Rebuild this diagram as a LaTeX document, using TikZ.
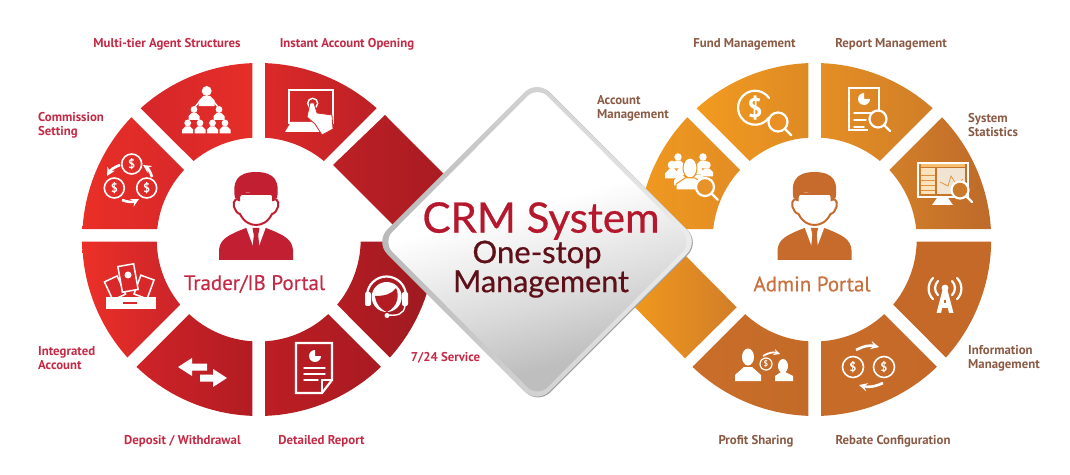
\documentclass[tikz,border=0pt]{standalone}
\usepackage{fontspec}
\usepackage{tikz}
\usetikzlibrary{arrows,shapes,positioning,calc}

\newfontfamily\labelfont{PT Sans}
\newfontfamily\portalfont[FakeBold=0.35]{PT Sans}
\newfontfamily\titlefont[FakeBold=0.6]{Lato}

\definecolor{redtext}{HTML}{C42A45}
\definecolor{browntext}{HTML}{8A5A44}
\definecolor{redman}{HTML}{C21F33}
\definecolor{orangeman}{HTML}{C76B2C}
\definecolor{admintext}{HTML}{C8703E}
\definecolor{crmred}{HTML}{B5182D}
\definecolor{crmdark}{HTML}{5E0F18}
\definecolor{redbg}{HTML}{D92829}
\definecolor{servicebg}{HTML}{B41C23}
\definecolor{lensa}{HTML}{E8922A}
\definecolor{lensb}{HTML}{E99124}
\definecolor{lensc}{HTML}{DA8427}
\definecolor{lensd}{HTML}{CB7A2B}
\definecolor{crowdedge}{HTML}{EE9622}
\definecolor{statbar}{HTML}{F7C070}
\definecolor{statstripe}{HTML}{FBE3BE}
\definecolor{statline}{HTML}{E09040}
\definecolor{statchart}{HTML}{F1E4D2}
\definecolor{towerbg}{HTML}{C46928}
\definecolor{platedark}{HTML}{A0A0A0}
\definecolor{plateleft}{HTML}{B8B8B8}
\definecolor{plateright}{HTML}{EDEDED}
\definecolor{platelow}{HTML}{BEBEBE}
\definecolor{platemid}{HTML}{DADADA}
\definecolor{squarea}{HTML}{BC2026}
\definecolor{squareb}{HTML}{A61A21}
\definecolor{squarec}{HTML}{F49C1C}
\definecolor{squared}{HTML}{D27E28}

\pgfdeclareverticalshading{platefade}{100bp}{color(0bp)=(platelow); color(30bp)=(platelow); color(40bp)=(platemid); color(56bp)=(white); color(100bp)=(white)}

\tikzset{
  redlabel/.style={font=\labelfont\bfseries\fontsize{12.8}{14}\selectfont,text=redtext,align=left,inner sep=0pt},
  brownlabel/.style={font=\labelfont\bfseries\fontsize{12.8}{14}\selectfont,text=browntext,align=left,inner sep=0pt},
  portal/.style={font=\portalfont\fontsize{21}{24}\selectfont},
  icon/.style={draw=white,line width=2.2pt,line cap=round},
  iconthin/.style={draw=white,line width=1.4pt,line cap=round},
  curved/.style={draw=white,line width=2.6pt,-stealth}
}

% ring piece: centre, outer start, outer end, inner end, inner start, colours
\newcommand{\ringseg}[7]{
  \definecolor{sega}{HTML}{#6}
  \definecolor{segb}{HTML}{#7}
  \shade[left color=sega,right color=segb] ($(#1)+(#2:176.5)$)
    arc[start angle=#2,end angle=#3,radius=176.5]
    -- ($(#1)+(#4:102)$)
    arc[start angle=#4,end angle=#5,radius=102] -- cycle;
}
\newcommand{\manicon}[3]{
  \begin{scope}[shift={(#1,#2)}]
    \fill[#3] (-37,0) -- (-37,10) .. controls (-36,21) and (-28,25) .. (-10,32)
      -- (10,32) .. controls (28,25) and (36,21) .. (37,10) -- (37,0) -- cycle;
    \fill[white] (-10,33) -- (0,6) -- (10,33) -- cycle;
    \fill[#3] (-3.5,32) -- (3.5,32) -- (2.2,25) -- (3.6,11) -- (0,5) -- (-3.6,11) -- (-2.2,25) -- cycle;
    \filldraw[fill=white,draw=#3,line width=2pt] (-17,66) -- (-17,60) .. controls (-23,63) and (-24,54) .. (-20,49)
      .. controls (-18,46) and (-17,47) .. (-16,46) .. controls (-12,38) and (-6,35) .. (0,35)
      .. controls (6,35) and (12,38) .. (16,46) .. controls (17,47) and (18,46) .. (20,49)
      .. controls (24,54) and (23,63) .. (17,60) -- (17,66) -- cycle;
    \fill[#3] (-21,62) .. controls (-24,78) and (-19,88) .. (0,88)
      .. controls (19,88) and (24,78) .. (21,62) -- (17,60) .. controls (16,70) and (8,66) .. (2,65)
      .. controls (-6,68) and (-15,70) .. (-17,60) -- cycle;
  \end{scope}
}
\newcommand{\coin}[4]{
  \node[circle,draw=white,line width=1.6pt,minimum size=#4,inner sep=0pt,text=white,
    font=\labelfont\bfseries\fontsize{12.5}{12.5}\selectfont] (#1) at (#2,#3) {\$};
}
\newcommand{\lens}[4]{
  \draw[icon,fill=#4] (#1,#2) circle (#3);
  \draw[icon] ($(#1,#2)+(-45:#3)$) -- ($(#1,#2)+(-45:#3*2)$);
}
\newcommand{\minihead}[3]{
  \fill[white] (#1,#2) circle (#3*0.62);
  \fill[white] ($(#1,#2)+(-#3,-#3*1.9)$) -- ($(#1,#2)+(-#3,-#3*1.2)$) -- ($(#1,#2)+(-#3*0.4,-#3*0.6)$)
    -- ($(#1,#2)+(#3*0.4,-#3*0.6)$) -- ($(#1,#2)+(#3,-#3*1.2)$) -- ($(#1,#2)+(#3,-#3*1.9)$) -- cycle;
}

\begin{document}
\begin{tikzpicture}[x=1pt,y=1pt]
  \useasboundingbox (0,0) rectangle (1070,474);
  \coordinate (L) at (258.7,234.5);
  \coordinate (R) at (814.7,234.5);

  % left ring
  \ringseg{L}{176.61}{136.17}{137.03}{174.12}{E92F27}{D92829}
  \ringseg{L}{131.95}{92.06}{93.57}{129.71}{D6262A}{E52E28}
  \ringseg{L}{87.94}{48.05}{50.29}{86.43}{DC2A29}{BC2026}
  \ringseg{L}{180.71}{221.95}{219.71}{181.24}{EC3028}{CB2429}
  \ringseg{L}{226.17}{267.94}{266.43}{227.03}{CE2329}{B21C22}
  \ringseg{L}{272.06}{313.83}{312.97}{273.57}{BC1E24}{A91A22}
  \ringseg{L}{318.05}{359.29}{358.76}{320.29}{B41C23}{9C1A20}
  \shade[left color=squarea,right color=squareb] (385,359) -- (465,278.7) -- (413,229) -- (333,309) -- cycle;

  % right ring
  \ringseg{R}{176.61}{136.17}{137.03}{174.12}{F09A20}{E28C24}
  \ringseg{R}{131.95}{92.06}{93.57}{129.71}{F29B20}{DE8A24}
  \ringseg{R}{87.94}{48.05}{50.29}{86.43}{E48E24}{D07E28}
  \ringseg{R}{43.83}{3.39}{5.88}{42.97}{D27F29}{BE6A2A}
  \ringseg{R}{-0.71}{-41.95}{-39.71}{-1.24}{C46928}{C46928}
  \ringseg{R}{272.06}{313.83}{312.97}{273.57}{C76C28}{C46928}
  \ringseg{R}{226.17}{267.94}{266.43}{227.03}{C96E2A}{C46A28}
  \shade[left color=squarec,right color=squared] (736.7,166.7) -- (665,239) -- (615,187) -- (685,115.7) -- cycle;

  % men
  \manicon{256}{214}{redman}
  \manicon{814.5}{214}{orangeman}

  % multi-tier
  \minihead{206.7}{383}{8}
  \minihead{194}{364.5}{5.5}
  \minihead{219}{364.5}{5.5}
  \minihead{187.7}{351}{5.5}
  \minihead{200}{351}{5.5}
  \minihead{212.5}{351}{5.5}
  \minihead{225}{351}{5.5}
  \draw[iconthin] (199,372) -- (195,367) (214,372) -- (218,367);

  % instant account
  \draw[icon,line cap=butt] (289,351) rectangle (333,384);
  \fill[white] (285,342) -- (320,342) -- (315,352) -- (291,352) -- cycle;
  \draw[iconthin] (312.7,370.7) circle (5);
  \filldraw[fill=white,draw=redbg,line width=0.8pt] (310,371) -- (314,371) -- (317,361) -- (332,359) -- (333,345) -- (322,339) -- (315,350) -- (307,357) -- cycle;

  % commission
  \coin{moneytop}{131.7}{310}{20pt}
  \coin{moneyleft}{114.3}{286}{20pt}
  \coin{moneyright}{146.7}{286}{20pt}
  \draw[curved] (120,309) to[bend right=20] (107,298);
  \draw[curved] (152,297) to[bend right=20] (143,309);
  \draw[curved] (122,274) to[bend right=25] (139,275);

  % integrated account
  \filldraw[fill=redbg,draw=white,line width=1.5pt,rotate around={25:(115,186)}] (108,176) rectangle (122,196);
  \filldraw[fill=redbg,draw=white,line width=1.5pt,rotate around={-20:(144,187)}] (137,177) rectangle (151,197);
  \filldraw[fill=redbg,draw=white,line width=1.5pt,rotate around={10:(128,196)}] (120,183) rectangle (136,209);
  \fill[white] (128,199) circle (3.5);
  \fill[white] (106,165) rectangle (156,177);
  \draw[redbg,line width=1.3pt] (123,171) -- (137,171);

  % deposit
  \fill[white] (178,107) -- (192,116) -- (192,110.5) -- (207,110.5) -- (207,103.5) -- (192,103.5) -- (192,98) -- cycle;
  \fill[white] (227,96) -- (213,105) -- (213,99.5) -- (200,99.5) -- (200,92.5) -- (213,92.5) -- (213,87) -- cycle;

  % detailed report
  \draw[icon,line cap=butt] (296,131) -- (332,131) -- (332,94) -- (322,81) -- (296,81) -- cycle;
  \draw[iconthin] (332,94) -- (322,94) -- (322,81);
  \fill[white] (315,118) -- (315,124) arc[start angle=90,end angle=360,radius=6] -- cycle;
  \draw[iconthin] (304,106) -- (325,106) (304,100) -- (325,100) (304,94) -- (318,94);

  % service
  \fill[white] (386.7,177) circle (15);
  \fill[servicebg] (375,178) .. controls (385,178) and (392,180) .. (396,186) .. controls (399,180) and (399,168) .. (387,162) .. controls (380,165) and (376,170) .. (375,178) -- cycle;
  \draw[icon] (367,178) arc[start angle=180,end angle=0,radius=19.5];
  \fill[white,rounded corners=2] (365,168) rectangle (371,182);
  \fill[white,rounded corners=2] (402,168) rectangle (408,182);
  \draw[iconthin] (405,168) .. controls (404,160) and (397,158) .. (389,159);
  \fill[white] (387,158.5) circle (2.5);

  % account management
  \minihead{672}{309}{7}
  \minihead{678}{317}{6}
  \minihead{703}{317}{6}
  \minihead{707}{309}{6}
  \minihead{681}{302}{7}
  \minihead{699}{303}{6}
  \filldraw[fill=white,draw=crowdedge,line width=1pt] (690,306) ellipse (7 and 10);
  \filldraw[fill=white,draw=crowdedge,line width=1pt] (676,284) -- (676,290) -- (685,296) -- (695,296) -- (704,290) -- (704,284) -- cycle;
  \lens{705}{287}{9}{lensa}

  % fund
  \draw[icon] (769,376) arc[start angle=35,end angle=325,radius=17];
  \node[text=white,font=\labelfont\bfseries\fontsize{27}{27}\selectfont] (fundsign) at (755,366) {\$};
  \lens{778}{352}{9.5}{lensb}

  % report
  \draw[icon,line cap=butt] (874,350) -- (879,350) -- (879,386) -- (849,386) -- (849,344) -- (868,344);
  \fill[white] (864,369) -- (864,381) arc[start angle=90,end angle=360,radius=6] -- (864,375) -- cycle;
  \draw[iconthin] (854,361) -- (874,361) (854,354) -- (866,354) (854,347) -- (864,347);
  \lens{878}{355}{8.5}{lensc}

  % statistics
  \draw[icon,line cap=butt] (918,277) rectangle (968,311);
  \fill[statbar] (921,307) rectangle (965,310);
  \fill[statstripe] (921,280) rectangle (935,306);
  \draw[statline,line width=0.7pt] (921,284) -- (935,284) (921,289) -- (935,289) (921,294) -- (935,294) (921,299) -- (935,299);
  \fill[statchart] (937,280) rectangle (965,306);
  \draw[statline,line width=0.7pt] (940,292) -- (948,288) -- (951,298) -- (956,290) -- (963,295);
  \fill[white] (932,269) -- (953,269) -- (948,276) -- (937,276) -- cycle;
  \lens{960}{284}{8.5}{lensd}

  % information
  \fill[white] (945,186) circle (3.4);
  \fill[white] (936.5,161) -- (942.5,184) -- (947.5,184) -- (953.5,161) -- (949,161) -- (947.8,166) -- (942.2,166) -- (941,161) -- cycle;
  \fill[towerbg] (943.8,171) rectangle (946.2,174);
  \draw[icon] (938,193) arc[start angle=135,end angle=225,radius=10];
  \draw[icon] (952,193) arc[start angle=45,end angle=-45,radius=10];
  \draw[icon] (933,196) arc[start angle=135,end angle=225,radius=15];
  \draw[icon] (957,196) arc[start angle=45,end angle=-45,radius=15];

  % rebate
  \coin{rebatea}{853}{107}{21pt}
  \coin{rebateb}{884}{107}{21pt}
  \draw[curved] (856,124) to[bend left=20] (879,127);
  \draw[curved] (883,91) to[bend left=20] (859,89);

  % profit
  \fill[white] (748,117) ellipse (6 and 8.5);
  \fill[white] (735,93) -- (735,99) -- (744,107) -- (752,107) -- (761,99) -- (761,93) -- cycle;
  \fill[white] (783,108) ellipse (5 and 7);
  \fill[white] (775,93) -- (775,98) -- (781,102) -- (785,102) -- (793,98) -- (793,93) -- cycle;
  \node[circle,draw=white,line width=1.2pt,minimum size=12pt,inner sep=0pt,text=white,
    font=\labelfont\bfseries\fontsize{8}{8}\selectfont] (profitcoin) at (766,110) {\$};
  \draw[draw=white,line width=1.8pt,-stealth] (763,118) to[bend left=25] (780,120);

  % centre plate
  \fill[platedark,rounded corners=17.4] (538,393.4) -- (700,231.4) -- (538,69.4) -- (376,231.4) -- cycle;
  \shade[left color=plateleft,right color=plateright,rounded corners=17.4] (537,394.2) -- (699,232.2) -- (537,70.2) -- (375,232.2) -- cycle;
  \shade[shading=platefade,shading angle=15,rounded corners=14] (537.5,387.7) -- (692.5,232.2) -- (537.5,76.7) -- (382.5,232.2) -- cycle;

  % labels
  \node[redlabel] (multitier) at (167,430) {Multi-tier Agent Structures};
  \node[redlabel] (instant) at (347,430) {Instant Account Opening};
  \node[redlabel,anchor=west] (commission) at (38,348.5) {Commission\\Setting};
  \node[redlabel,anchor=west] (integrated) at (38,115.5) {Integrated\\Account};
  \node[redlabel] (deposit) at (182.5,32.5) {Deposit / Withdrawal};
  \node[redlabel] (detailed) at (321.5,32.5) {Detailed Report};
  \node[redlabel] (service) at (445.5,116.5) {7/24 Service};
  \node[portal,text=redtext] (trader) at (254.5,190) {Trader/IB Portal};
  \node[brownlabel] (fund) at (744.5,430) {Fund Management};
  \node[brownlabel] (report) at (891,430) {Report Management};
  \node[brownlabel,anchor=west] (account) at (597,366) {Account\\Management};
  \node[brownlabel,anchor=west] (system) at (968,348.5) {System\\Statistics};
  \node[brownlabel,anchor=west] (information) at (968,115.5) {Information\\Management};
  \node[brownlabel] (profit) at (756,32.5) {Profit Sharing};
  \node[brownlabel] (rebate) at (893,32.5) {Rebate Configuration};
  \node[portal,text=admintext] (admin) at (812,190) {Admin Portal};
  \node[inner sep=0pt,font=\titlefont\fontsize{42}{46}\selectfont,text=crmred] (crm) at (541,253) {CRM System};
  \node[inner sep=0pt,font=\titlefont\fontsize{31}{34}\selectfont,text=crmdark] (onestop) at (537,219.5) {One-stop};
  \node[inner sep=0pt,font=\titlefont\fontsize{30.5}{34}\selectfont,text=crmdark] (mgmt) at (541,190) {Management};
\end{tikzpicture}
\end{document}
